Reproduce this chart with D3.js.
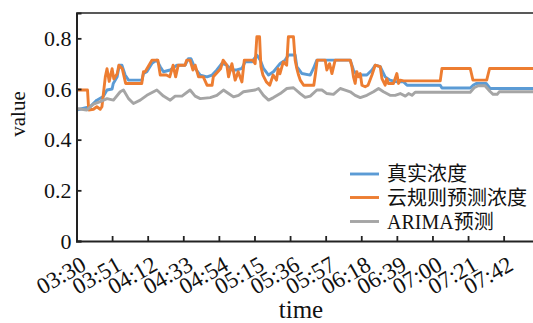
<!DOCTYPE html>
<html>
<head>
<meta charset="utf-8">
<script src="https://cdn.jsdelivr.net/npm/d3@7"></script>
<style>
  html, body { margin: 0; padding: 0; background: #fff; }
  svg { display: block; }
  text { font-family: "Liberation Serif", "Noto Sans CJK SC", serif; fill: #111; }
</style>
</head>
<body>
<svg id="chart" width="533" height="323"></svg>
<script>
// Minutes after 03:30 and the concentration at each sample
const realT = [0, 8, 12, 15.8, 18, 21, 21.7, 24, 25.2, 26.8, 28.7, 30.7, 38.6, 39.5, 41.5, 44.5, 47.4, 49.4, 51.3, 55.3, 59.2, 64.1, 66, 67.5, 70, 73, 77, 80, 82.8, 85.8, 88.7, 91.7, 94.6, 97.6, 99.5, 103.5, 106.4, 108.4, 110.3, 113.3, 116.2, 120.2, 123.1, 125, 129, 130, 133, 137.9, 139.8, 141.8, 161.5, 163.4, 165.4, 171.3, 174.3, 176.2, 179.2, 182.1, 185, 189, 193, 195, 214.6, 215.6, 232.3, 234, 235.8, 241.7, 244, 272];
const realV = [0.517, 0.53, 0.556, 0.57, 0.596, 0.60, 0.622, 0.648, 0.694, 0.694, 0.655, 0.635, 0.635, 0.661, 0.668, 0.701, 0.714, 0.688, 0.668, 0.675, 0.694, 0.694, 0.72, 0.72, 0.681, 0.655, 0.648, 0.655, 0.675, 0.701, 0.694, 0.675, 0.675, 0.681, 0.707, 0.707, 0.734, 0.714, 0.681, 0.655, 0.668, 0.701, 0.714, 0.734, 0.734, 0.688, 0.661, 0.655, 0.681, 0.714, 0.714, 0.675, 0.655, 0.655, 0.675, 0.694, 0.688, 0.648, 0.635, 0.628, 0.628, 0.615, 0.615, 0.604, 0.604, 0.615, 0.622, 0.622, 0.602, 0.602];

const cloudT = [0, 6.5, 7.2, 10, 12, 14, 15, 17, 18, 19.3, 21, 22, 24, 25, 27, 29, 38.5, 39.5, 40.5, 44.5, 48, 49.4, 53, 55, 57, 58.5, 60, 64, 65, 67, 68.7, 70, 72, 74.8, 77, 80, 80.7, 85, 86.5, 88.7, 89.7, 91.7, 93.6, 95.4, 97.6, 99, 104, 105.4, 106.4, 108, 108.8, 110, 112, 114, 116, 118, 119, 120, 122, 124, 125, 128, 129, 130, 131, 132, 134, 140, 141, 142, 146.7, 147.7, 149.3, 150.7, 152.6, 161.5, 162.5, 163.4, 164.4, 165.4, 166.4, 167.4, 168.4, 170.3, 172, 174.3, 176.2, 179.2, 180.2, 182.1, 183, 184, 187, 189, 190, 191, 193, 214.6, 215.6, 232.3, 233.9, 242, 243.7, 272];
const cloudV = [0.596, 0.596, 0.517, 0.52, 0.53, 0.52, 0.53, 0.648, 0.68, 0.63, 0.68, 0.64, 0.66, 0.694, 0.68, 0.622, 0.622, 0.668, 0.668, 0.714, 0.714, 0.655, 0.655, 0.648, 0.694, 0.648, 0.694, 0.694, 0.714, 0.714, 0.675, 0.694, 0.648, 0.648, 0.615, 0.615, 0.648, 0.68, 0.714, 0.694, 0.648, 0.70, 0.635, 0.668, 0.628, 0.714, 0.714, 0.70, 0.806, 0.806, 0.688, 0.655, 0.628, 0.615, 0.655, 0.635, 0.68, 0.66, 0.707, 0.694, 0.806, 0.806, 0.714, 0.68, 0.655, 0.635, 0.615, 0.615, 0.661, 0.714, 0.714, 0.675, 0.70, 0.661, 0.714, 0.714, 0.688, 0.648, 0.622, 0.668, 0.648, 0.661, 0.615, 0.609, 0.615, 0.655, 0.694, 0.688, 0.641, 0.615, 0.641, 0.622, 0.622, 0.661, 0.622, 0.635, 0.632, 0.632, 0.681, 0.681, 0.635, 0.635, 0.681, 0.681];

const arimaT = [0, 6, 10, 14, 18, 21.8, 25.8, 27.7, 30.7, 33.6, 37.6, 41.5, 47.4, 51.3, 55.3, 58.2, 62.2, 67, 70, 73, 78.9, 82.8, 86.7, 89.7, 92.6, 95.6, 98.5, 105.4, 107.4, 110.3, 113.3, 116.2, 120.2, 124.1, 128, 132, 134.9, 137.9, 141.8, 144.8, 147.7, 151.6, 155.6, 158.5, 161.5, 164.4, 167.4, 171.3, 175.2, 178.2, 181.1, 185, 188, 191, 194, 195.9, 197.9, 199.8, 232.3, 234.6, 237, 241, 244, 245.8, 248.2, 249.4, 272];
const arimaV = [0.523, 0.517, 0.54, 0.55, 0.562, 0.556, 0.589, 0.596, 0.562, 0.543, 0.556, 0.575, 0.596, 0.572, 0.556, 0.572, 0.572, 0.596, 0.572, 0.562, 0.566, 0.575, 0.596, 0.582, 0.569, 0.575, 0.589, 0.596, 0.602, 0.575, 0.556, 0.566, 0.582, 0.602, 0.605, 0.582, 0.567, 0.572, 0.596, 0.596, 0.582, 0.579, 0.602, 0.596, 0.589, 0.575, 0.566, 0.575, 0.589, 0.602, 0.589, 0.575, 0.575, 0.582, 0.572, 0.582, 0.575, 0.587, 0.587, 0.605, 0.613, 0.613, 0.59, 0.579, 0.579, 0.589, 0.589];

const tickMinutes = [0, 21, 42, 63, 84, 105, 126, 147, 168, 189, 210, 231, 252];
const tickLabels = ["03:30", "03:51", "04:12", "04:33", "04:54", "05:15", "05:36", "05:57", "06:18", "06:39", "07:00", "07:21", "07:42"];
const yTicks = [0, 0.2, 0.4, 0.6, 0.8];

const seriesNames = ["真实浓度", "云规则预测浓度", "ARIMA预测"];
const seriesColors = ["#5B9BD5", "#ED7D31", "#A5A5A5"];

const svg = d3.select("#chart");
const plotLeft = 76.5, plotTop = 13, plotBottom = 241;
const x = d3.scaleLinear().domain([0, 270]).range([plotLeft, plotLeft + 270 * 1.695]);
const y = d3.scaleLinear().domain([0, 0.9]).range([plotBottom, plotTop]);

const zip = (t, v) => t.map((d, i) => [d, v[i]]);
const series = [zip(realT, realV), zip(cloudT, cloudV), zip(arimaT, arimaV)];

svg.append("clipPath").attr("id", "plotclip")
  .append("rect").attr("x", plotLeft).attr("y", plotTop)
  .attr("width", x(270) - plotLeft).attr("height", plotBottom - plotTop);

const line = d3.line().x(d => x(d[0])).y(d => y(d[1]));
const plot = svg.append("g").attr("clip-path", "url(#plotclip)");
series.forEach((s, i) => {
  plot.append("path").datum(s)
    .attr("fill", "none")
    .attr("stroke", seriesColors[i])
    .attr("stroke-width", 2.9)
    .attr("stroke-linejoin", "round")
    .attr("d", line);
});

// frame: top edge
svg.append("line").attr("x1", plotLeft).attr("x2", 540).attr("y1", plotTop).attr("y2", plotTop)
  .attr("stroke", "#222").attr("stroke-width", 1.6);

// y axis with inward ticks
const yAxis = svg.append("g").attr("transform", `translate(${plotLeft},0)`)
  .call(d3.axisLeft(y).tickValues(yTicks).tickSize(-5).tickPadding(5)
    .tickFormat(d => d === 0 ? "0" : d3.format(".1f")(d)));
yAxis.select(".domain").attr("stroke", "#222").attr("stroke-width", 2);
yAxis.selectAll(".tick line").attr("stroke", "#222").attr("stroke-width", 1.8);
yAxis.selectAll(".tick text").attr("font-size", 22).attr("font-family", "Liberation Serif").attr("fill", "#111");

// x axis with inward ticks and slanted labels
const xAxis = svg.append("g").attr("transform", `translate(0,${plotBottom})`)
  .call(d3.axisBottom(x).tickValues(tickMinutes).tickSize(-5)
    .tickFormat((d, i) => tickLabels[i]));
xAxis.select(".domain").attr("stroke", "#222").attr("stroke-width", 2);
xAxis.selectAll(".tick line").attr("stroke", "#222").attr("stroke-width", 1.8);
xAxis.selectAll(".tick text")
  .attr("font-size", 23).attr("font-family", "Liberation Serif").attr("fill", "#111")
  .attr("text-anchor", "middle")
  .attr("dy", null).attr("y", 0)
  .attr("transform", "translate(-12,41) rotate(-30)");

// axis titles
svg.append("text").attr("x", 301).attr("y", 318).attr("text-anchor", "middle")
  .attr("font-size", 25).text("time");
svg.append("text").attr("transform", "translate(25,114) rotate(-90)")
  .attr("text-anchor", "middle").attr("font-size", 21).text("value");

// legend
const legend = svg.append("g");
const rowY = [174, 197.5, 221.5];
seriesNames.forEach((name, i) => {
  legend.append("line").attr("x1", 350).attr("x2", 379).attr("y1", rowY[i]).attr("y2", rowY[i])
    .attr("stroke", seriesColors[i]).attr("stroke-width", 2.9);
  legend.append("text").attr("x", 387).attr("y", rowY[i] + 7)
    .attr("font-size", 20).text(name);
});
</script>
</body>
</html>
